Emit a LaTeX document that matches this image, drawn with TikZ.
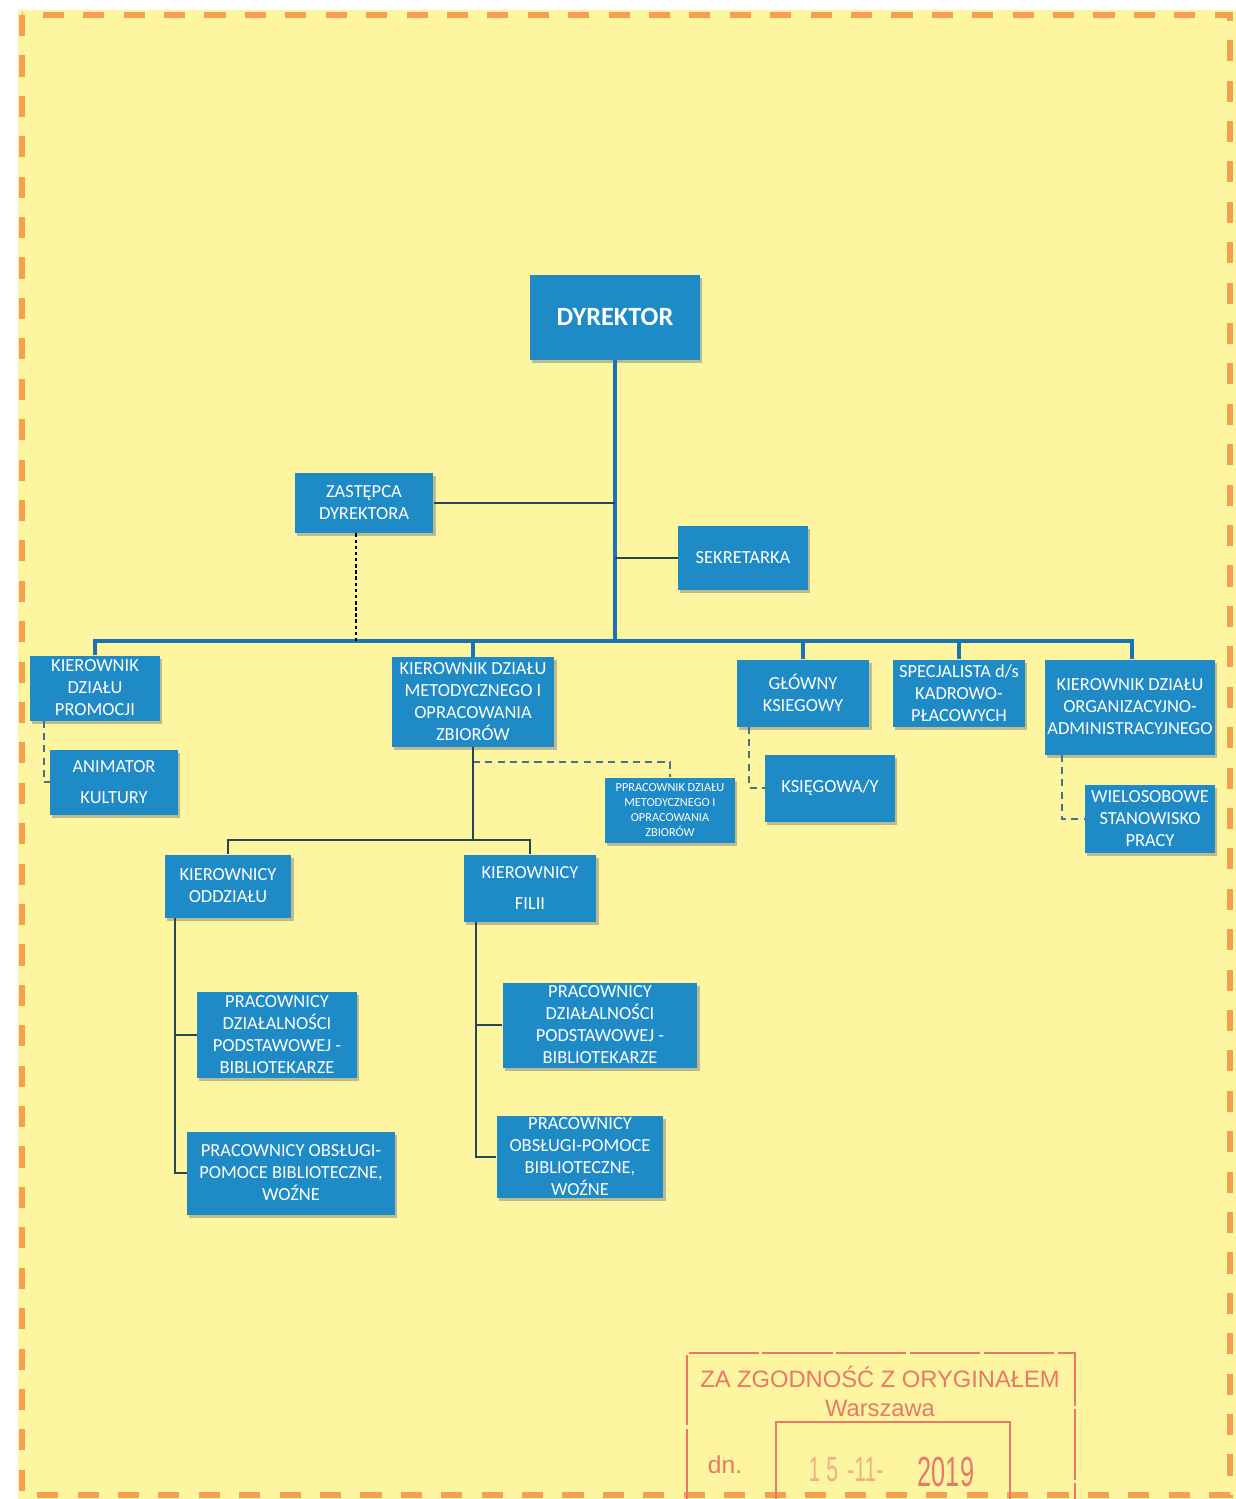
\documentclass[tikz,border=0pt]{standalone}
\usepackage{fontspec}
\setmainfont{Carlito}
\newfontfamily\stampfont{Liberation Sans}
\usepackage{xcolor}
\usepackage{tikz}
\usetikzlibrary{arrows.meta, positioning, shadows, calc}

\definecolor{paper}{RGB}{253,245,160}
\definecolor{frame}{RGB}{245,160,80}
\definecolor{boxblue}{RGB}{30,138,198}
\definecolor{busblue}{RGB}{25,115,180}
\definecolor{darkline}{RGB}{40,70,85}
\definecolor{dashline}{RGB}{70,115,140}
\definecolor{stampred}{RGB}{232,120,105}

\begin{document}
\begin{tikzpicture}[x=0.02cm,y=-0.02cm,
    box/.style={rectangle, fill=boxblue, text=white, align=center, inner sep=1pt,
        font=\fontsize{10.5}{12.5}\selectfont,
        drop shadow={shadow xshift=1.2pt, shadow yshift=-1.8pt, opacity=0.5}},
    bus/.style={busblue, line width=2.4pt},
    link/.style={darkline, line width=1.1pt},
    dashlink/.style={dashline, line width=1.1pt, dash pattern=on 4pt off 3pt},
    stamptext/.style={text=stampred, font=\stampfont\fontsize{13.5}{15}\selectfont}]

    \useasboundingbox (0,0) rectangle (1236,1499);
    \fill[white] (0,0) rectangle (1236,1499);
    \fill[paper] (18,10) rectangle (1236,1499);
    \draw[frame, line width=3.4pt, dash pattern=on 12pt off 11pt] (22,15) rectangle (1230,1495);

    \node[box, minimum width=3.4cm, minimum height=1.7cm, font=\bfseries\fontsize{15}{18}\selectfont] (dyr) at (615,317) {DYREKTOR};
    \node[box, minimum width=2.78cm, minimum height=1.2cm] (zast) at (364,503) {ZASTĘPCA\\DYREKTORA};
    \node[box, minimum width=2.6cm, minimum height=1.28cm] (sek) at (743,558) {SEKRETARKA};

    \node[box, minimum width=2.6cm, minimum height=1.3cm] (prom) at (95,688) {KIEROWNIK\\DZIAŁU\\PROMOCJI};
    \node[box, minimum width=2.56cm, minimum height=1.3cm] (anim) at (114,782) {ANIMATOR\\[5pt]KULTURY};
    \node[box, minimum width=3.26cm, minimum height=1.8cm] (met) at (473,702) {KIEROWNIK DZIAŁU\\METODYCZNEGO I\\OPRACOWANIA\\ZBIORÓW};
    \node[box, minimum width=2.6cm, minimum height=1.3cm, font=\fontsize{7}{8.5}\selectfont] (ppr) at (670,810) {PPRACOWNIK DZIAŁU\\METODYCZNEGO I\\OPRACOWANIA\\ZBIORÓW};
    \node[box, minimum width=2.66cm, minimum height=1.34cm] (gk) at (803,693) {GŁÓWNY\\KSIEGOWY};
    \node[box, minimum width=2.6cm, minimum height=1.34cm] (ksg) at (830,788) {KSIĘGOWA/Y};
    \node[box, minimum width=2.64cm, minimum height=1.34cm] (spec) at (959,693) {SPECJALISTA d/s\\KADROWO-\\PŁACOWYCH};
    \node[box, minimum width=3.4cm, minimum height=1.9cm] (org) at (1130,707) {KIEROWNIK DZIAŁU\\ORGANIZACYJNO-\\ADMINISTRACYJNEGO};
    \node[box, minimum width=2.6cm, minimum height=1.36cm] (wiel) at (1150,819) {WIELOSOBOWE\\STANOWISKO\\PRACY};

    \node[box, minimum width=2.54cm, minimum height=1.26cm] (odz) at (228,886) {KIEROWNICY\\ODDZIAŁU};
    \node[box, minimum width=2.66cm, minimum height=1.34cm] (fil) at (530,888) {KIEROWNICY\\[5pt]FILII};
    \node[box, minimum width=3.2cm, minimum height=1.72cm] (pb1) at (277,1035) {PRACOWNICY\\DZIAŁALNOŚCI\\PODSTAWOWEJ -\\BIBLIOTEKARZE};
    \node[box, minimum width=4.16cm, minimum height=1.66cm] (obs1) at (291,1173) {PRACOWNICY OBSŁUGI-\\POMOCE BIBLIOTECZNE,\\WOŹNE};
    \node[box, minimum width=3.9cm, minimum height=1.7cm] (pb2) at (600,1025) {PRACOWNICY\\DZIAŁALNOŚCI\\PODSTAWOWEJ -\\BIBLIOTEKARZE};
    \node[box, minimum width=3.34cm, minimum height=1.62cm] (obs2) at (580,1157) {PRACOWNICY\\OBSŁUGI-POMOCE\\BIBLIOTECZNE,\\WOŹNE};

    % main bus
    \coordinate (busL) at (95,641);
    \coordinate (busR) at (1132,641);
    \draw[bus] (dyr.south) -- (dyr.south |- busL);
    \draw[bus] (prom.north) -- (prom.north |- busL) -- (busR) -- (busR |- org.north);
    \foreach \n in {met,gk,spec}
        \draw[bus] (\n.north) -- (\n.north |- busL);

    \draw[link] (zast.east) -- (zast.east -| dyr.south);
    \draw[link] (sek.west) -- (sek.west -| dyr.south);
    \draw[black, line width=0.8pt, dash pattern=on 2pt off 1.5pt] ([xshift=-0.16cm]zast.south) -- ([xshift=-0.16cm]zast.south |- busL);

    % dashed subordinates
    \draw[dashlink] ([xshift=0.28cm]prom.south west) |- (anim.west);
    \draw[dashlink] ([xshift=0.26cm]gk.south west) |- (ksg.west);
    \draw[dashlink] ([xshift=0.34cm]org.south west) |- (wiel.west);
    \draw[dashlink] ($(met.south)+(0,15)$) -| (ppr.north);

    % branches
    \coordinate (sub) at (473,840);
    \draw[link] (met.south) -- (sub);
    \draw[link] (odz.north) |- (sub) -| (fil.north);

    \coordinate (odzL) at ([xshift=0.22cm]odz.south west);
    \draw[link] (odzL) |- (obs1.west);
    \draw[link] (odzL |- pb1.west) -- (pb1.west);
    \coordinate (filL) at ([xshift=0.26cm]fil.south west);
    \draw[link] (filL) |- (obs2.west);
    \draw[link] (filL |- pb2.west) -- (pb2.west);

    % stamp
    \draw[stampred, line width=0.9pt, dash pattern=on 40pt off 2pt] (687,1499) -- (687,1353) -- (1075,1353) -- (1075,1499);
    \draw[stampred, line width=1.2pt] (776,1499) -- (776,1422) -- (1010,1422) -- (1010,1499);
    \node[stamptext] (zgod) at (880,1377) {ZA ZGODNOŚĆ Z ORYGINAŁEM};
    \node[stamptext] (wars) at (880,1408) {Warszawa};
    \node[stamptext, font=\stampfont\fontsize{14}{16}\selectfont] (dn) at (725,1465) {dn.};
    \node[text=stampred!55!paper, font=\stampfont\fontsize{20}{22}\selectfont, xscale=0.6] (day) at (846,1470) {1 5\, -11-};
    \node[text=stampred, font=\stampfont\fontsize{24}{26}\selectfont, xscale=0.6] (year) at (946,1472) {2019};
\end{tikzpicture}
\end{document}
